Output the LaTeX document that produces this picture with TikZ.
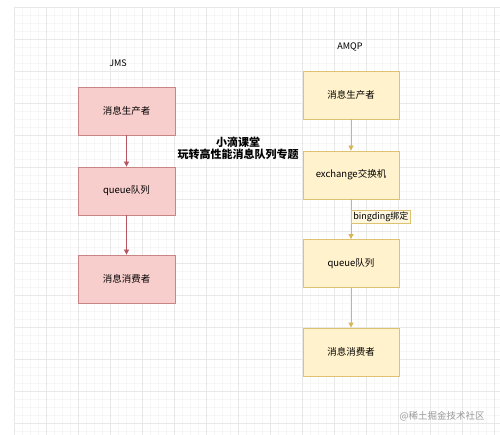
\documentclass[tikz,border=0pt]{standalone}
\usepackage{fontspec}
\setmainfont{Noto Sans CJK SC}
\usetikzlibrary{arrows.meta}
\definecolor{pinkfill}{HTML}{F8CECC}
\definecolor{pinkline}{HTML}{C98585}
\definecolor{pinkarrow}{HTML}{B85460}
\definecolor{yelfill}{HTML}{FFF2CC}
\definecolor{yelline}{HTML}{DCC271}
\definecolor{yelarrow}{HTML}{D6B656}
\definecolor{majgrid}{HTML}{E8E8E8}
\definecolor{mingrid}{HTML}{F6F6F6}
\tikzset{
  jmsbox/.style={draw=pinkline, fill=pinkfill, line width=0.8pt, minimum width=97pt, minimum height=48pt, inner sep=0pt, font=\fontsize{9.5}{11}\selectfont},
  amqpbox/.style={draw=yelline, fill=yelfill, line width=0.8pt, minimum width=96pt, minimum height=48pt, inner sep=0pt, font=\fontsize{9.5}{11}\selectfont},
  jmsarrow/.style={draw=pinkarrow, line width=0.8pt, -{Triangle[width=5pt,length=5pt]}},
  amqparrow/.style={draw=yelarrow, line width=0.8pt, -{Triangle[width=5pt,length=5pt]}},
  title/.style={font=\fontsize{9}{11}\selectfont},
  edgelabel/.style={draw=yelline, fill=yelfill!60, line width=0.6pt, inner xsep=2pt, inner ysep=1.8pt, font=\fontsize{9}{11}\selectfont},
}
\begin{document}
\begin{tikzpicture}[x=1pt,y=-1pt]
\useasboundingbox (0,0) rectangle (500,435);
\fill[white] (0,0) rectangle (500,435);
% minor grid
\foreach \k in {0,...,60} {
  \draw[mingrid, line width=0.4pt] ({14+8*\k},7) -- ({14+8*\k},435);
}
\foreach \k in {0,...,53} {
  \draw[mingrid, line width=0.4pt] (14,{7+8*\k}) -- (500,{7+8*\k});
}
% major grid
\foreach \k in {0,...,15} {
  \draw[majgrid, line width=0.6pt] ({14+32*\k},7) -- ({14+32*\k},435);
}
\foreach \k in {0,...,13} {
  \draw[majgrid, line width=0.6pt] (14,{7+32*\k}) -- (500,{7+32*\k});
}

% JMS column
\node[title] (jms) at (118,63) {JMS};
\node[jmsbox] (jp) at (126.5,111) {消息生产者};
\node[jmsbox] (jq) at (126.5,191) {queue队列};
\node[jmsbox] (jc) at (126.5,279) {消息消费者};
\draw[jmsarrow] (jp) -- (jq);
\draw[jmsarrow] (jq) -- (jc);

% AMQP column
\node[title] (amqp) at (350,47) {AMQP};
\node[amqpbox] (ap) at (351,95) {消息生产者};
\node[amqpbox] (ax) at (351,175) {exchange交换机};
\node[amqpbox] (aq) at (351,263.5) {queue队列};
\node[amqpbox] (ac) at (351,352) {消息消费者};
\draw[amqparrow] (ap) -- (ax);
\draw[amqparrow] (ax) -- node[edgelabel, anchor=west, pos=0.44] (bind) {bingding绑定} (aq);
\draw[amqparrow] (aq) -- (ac);

% middle text
\node[align=center, font=\fontsize{11}{12}\selectfont\bfseries] (mid) at (238,148) {小滴课堂\\玩转高性能消息队列专题};

% watermark
\node[text=black!40, font=\fontsize{9.5}{11}\selectfont] (wm) at (442,416) {@稀土掘金技术社区};
\end{tikzpicture}
\end{document}
